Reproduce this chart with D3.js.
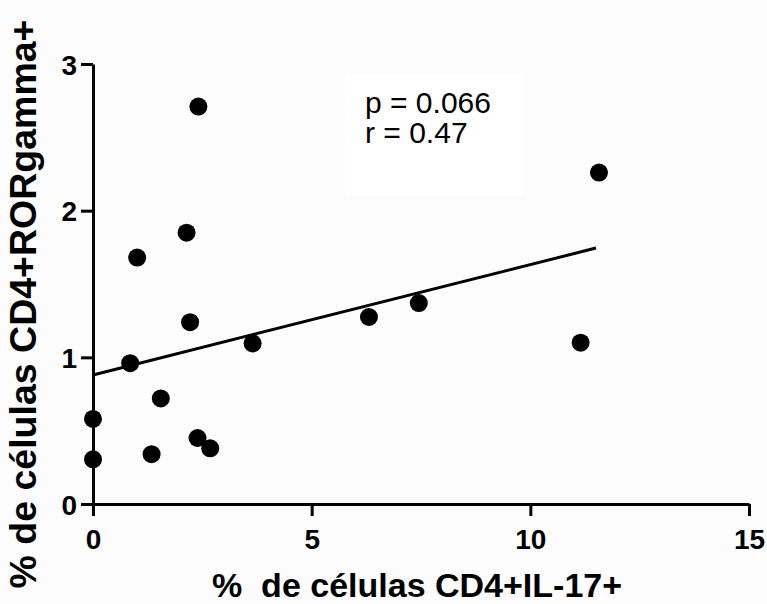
<!DOCTYPE html>
<html>
<head>
<meta charset="utf-8">
<script src="https://cdn.jsdelivr.net/npm/d3@7"></script>
<style>
  body { margin: 0; background: #fcfcfc; }
  svg { display: block; }
  .axis path, .axis line { stroke: #000; stroke-width: 3px; }
</style>
</head>
<body>
<svg id="chart" width="767" height="604"></svg>
<script>
// Data
var il17 = [2.41, 2.14, 1.01, 2.22, 0.85, 3.65, 1.55, 0.0, 0.0, 1.34, 2.39, 2.68, 6.31, 7.45, 11.57, 11.15];
var rorg = [2.71, 1.85, 1.68, 1.24, 0.96, 1.095, 0.72, 0.58, 0.305, 0.34, 0.45, 0.38, 1.275, 1.37, 2.26, 1.10];
var fitX = [0, 11.5];
var fitY = [0.88, 1.745];
var xTicks = [0, 5, 10, 15];
var yTicks = [0, 1, 2, 3];
var statLines = ['p = 0.066', 'r = 0.47'];

var svg = d3.select('#chart');
var margin = {top: 64, right: 18, bottom: 100, left: 93};
var width = 767 - margin.left - margin.right;
var height = 604 - margin.top - margin.bottom;
var fontFam = 'Arial, "Liberation Sans", sans-serif';

var g = svg.append('g')
    .attr('transform', 'translate(' + margin.left + ',' + margin.top + ')');

var x = d3.scaleLinear().domain([0, 15]).range([0, width]);
var y = d3.scaleLinear().domain([0, 3]).range([height, 0]);

// white box behind the stats
g.append('rect')
    .attr('x', 252).attr('y', 10)
    .attr('width', 178).attr('height', 122)
    .style('fill', '#ffffff');

// x axis
g.append('g')
    .attr('class', 'axis')
    .attr('transform', 'translate(0,' + height + ')')
    .call(d3.axisBottom(x).tickValues(xTicks).tickFormat(d3.format('d'))
        .tickSize(12).tickSizeOuter(0).tickPadding(8))
    .selectAll('text')
    .attr('dy', '0.9em')
    .style('font-family', fontFam)
    .style('font-weight', 'bold')
    .style('font-size', '28px')
    .style('fill', '#000');

// y axis
g.append('g')
    .attr('class', 'axis')
    .call(d3.axisLeft(y).tickValues(yTicks).tickFormat(d3.format('d'))
        .tickSize(12).tickSizeOuter(0).tickPadding(4))
    .selectAll('text')
    .attr('dy', '0.36em')
    .style('font-family', fontFam)
    .style('font-weight', 'bold')
    .style('font-size', '28px')
    .style('fill', '#000');

// regression line
g.append('line')
    .attr('x1', x(fitX[0])).attr('y1', y(fitY[0]))
    .attr('x2', x(fitX[1])).attr('y2', y(fitY[1]))
    .style('stroke', '#000')
    .style('stroke-width', 3);

// points
g.selectAll('circle.pt')
    .data(d3.range(il17.length))
    .enter().append('circle')
    .attr('class', 'pt')
    .attr('cx', function(i) { return x(il17[i]); })
    .attr('cy', function(i) { return y(rorg[i]); })
    .attr('r', 9)
    .style('fill', '#000');

// stats text
g.selectAll('text.stat')
    .data(statLines)
    .enter().append('text')
    .attr('class', 'stat')
    .attr('x', 272)
    .attr('y', function(d, i) { return 49 + i * 30; })
    .style('font-family', fontFam)
    .style('font-size', '30px')
    .style('fill', '#000')
    .text(function(d) { return d; });

// axis titles
svg.append('text')
    .attr('x', 212)
    .attr('y', 597)
    .style('font-family', fontFam)
    .style('font-weight', 'bold')
    .style('font-size', '34px')
    .style('white-space', 'pre')
    .attr('xml:space', 'preserve')
    .text('%  de células CD4+IL-17+');

svg.append('text')
    .attr('transform', 'translate(36,304) rotate(-90)')
    .attr('text-anchor', 'middle')
    .style('font-family', fontFam)
    .style('font-weight', 'bold')
    .style('font-size', '37.5px')
    .text('% de células CD4+RORgamma+');
</script>
</body>
</html>
